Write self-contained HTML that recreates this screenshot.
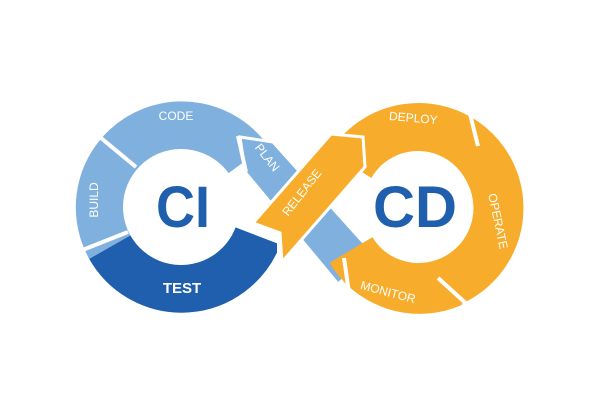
<!DOCTYPE html>
<html><head><style>html,body{margin:0;padding:0;background:#fff}svg{display:block}</style></head>
<body>
<svg width="600" height="400" viewBox="0 0 600 400" xmlns="http://www.w3.org/2000/svg" font-family="Liberation Sans, sans-serif">
<path d="M 248 159 A 82 82 0 0 0 110 247" fill="none" stroke="#80b1de" stroke-width="48"/>
<path d="M 351 165 A 80 80 0 1 1 353 254" fill="none" stroke="#f7ad2b" stroke-width="50"/>
<path d="M 110 247 A 82 82 0 0 0 258 236" fill="none" stroke="#1f5fad" stroke-width="48"/>
<rect x="277" y="225" width="20" height="60" fill="#fff"/>
<polygon points="240,137 273,142 373,253 338,284 245,172" fill="#80b1de" stroke="#fff" stroke-width="3"/>
<path d="M 351 250 A 80 80 0 0 0 452 282" fill="none" stroke="#f7ad2b" stroke-width="50"/>
<line x1="344" y1="258" x2="349" y2="293" stroke="#fff" stroke-width="4"/>
<polygon points="253,223 331,134 363,137 365,167 282,262 280,233" fill="#f7ad2b" stroke="#fff" stroke-width="3"/>
<g stroke="#fff" stroke-width="4">
<line x1="95" y1="133" x2="136" y2="167"/>
<line x1="80" y1="251" x2="128" y2="232"/>
<line x1="238" y1="136" x2="246" y2="172"/>
<line x1="467" y1="102" x2="478" y2="146"/>
<line x1="438" y1="278" x2="470" y2="307"/>
</g>
<circle cx="181" cy="207" r="58" fill="#fff"/>
<circle cx="418" cy="205" r="54" fill="#fff"/>
<g fill="#fff" font-size="12" text-anchor="middle">
<text x="176" y="120">CODE</text>
<text transform="translate(98,200) rotate(-90)">BUILD</text>
<text x="182" y="293" font-size="15" font-weight="bold">TEST</text>
<text transform="translate(264,160) rotate(52)">PLAN</text>
<text transform="translate(305,195) rotate(-52)">RELEASE</text>
<text transform="translate(413,122) rotate(5)">DEPLOY</text>
<text transform="translate(494,222) rotate(78)">OPERATE</text>
<text transform="translate(387,296) rotate(15)">MONITOR</text>
</g>
<g fill="#1f5fad" font-weight="bold" font-size="58" text-anchor="middle">
<text x="183" y="227" textLength="54" lengthAdjust="spacingAndGlyphs">CI</text>
<text x="415" y="227" textLength="84" lengthAdjust="spacingAndGlyphs">CD</text>
</g>
</svg>
</body></html>
